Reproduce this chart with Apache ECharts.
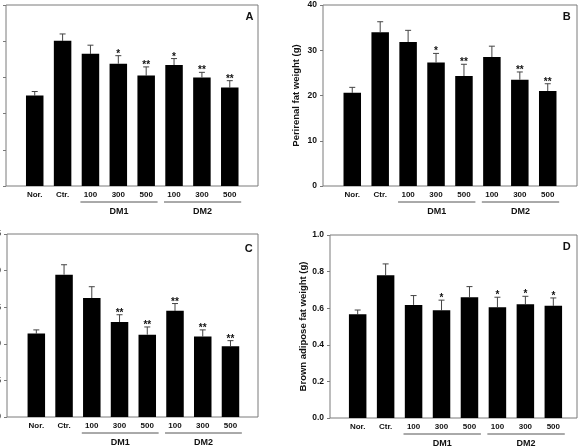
<!DOCTYPE html>
<html><head><meta charset="utf-8">
<script src="https://cdn.jsdelivr.net/npm/echarts@6/dist/echarts.min.js"></script>
<style>html,body{margin:0;padding:0;background:#fff}#c{width:585px;height:448px}</style>
</head><body><div id="c"></div>
<script>
const categories = ['Nor.', 'Ctr.', '100', '300', '500', '100', '300', '500'];
const groupNames = ['DM1', 'DM2'];
const groupFrom = [2, 5];
const groupTo = [4, 7];

const ticksA = [0, 10, 20, 30, 40, 50];
const meanA = [25.0, 40.1, 36.5, 33.8, 30.5, 33.4, 30.0, 27.2];
const sdA   = [1.1, 1.9, 2.4, 2.2, 2.4, 1.8, 1.4, 1.9];
const sigA  = ['', '', '', '*', '**', '*', '**', '**'];

const ticksB = [0, 10, 20, 30, 40];
const meanB = [20.6, 34.0, 31.8, 27.3, 24.3, 28.5, 23.5, 21.0];
const sdB   = [1.2, 2.3, 2.6, 2.0, 2.6, 2.4, 1.7, 1.6];
const sigB  = ['', '', '', '*', '**', '', '**', '**'];

const ticksC = [0, 0.5, 1.0, 1.5, 2.0, 2.5];
const meanC = [1.14, 1.945, 1.625, 1.297, 1.125, 1.45, 1.10, 0.968];
const sdC   = [0.05, 0.135, 0.155, 0.10, 0.105, 0.10, 0.09, 0.075];
const sigC  = ['', '', '', '**', '**', '**', '**', '**'];

const ticksD = [0, 0.2, 0.4, 0.6, 0.8, 1.0];
const meanD = [0.567, 0.78, 0.618, 0.589, 0.66, 0.605, 0.622, 0.613];
const sdD   = [0.023, 0.062, 0.051, 0.055, 0.058, 0.055, 0.043, 0.043];
const sigD  = ['', '', '', '*', '', '*', '*', '*'];

const FONT = '"Liberation Sans", Arial, Helvetica, sans-serif';
const AXIS_GRAY = '#7a7a7a';
const INK = '#111';

const panels = [
  {letter: 'A', mean: meanA, sd: sdA, sig: sigA, ticks: ticksA, dec: 0, name: '',
   frame: [6, 5, 252, 181], data: [20.8, 222.9], letterPos: [253.5, 17]},
  {letter: 'B', mean: meanB, sd: sdB, sig: sigB, ticks: ticksB, dec: 0, name: 'Perirenal fat weight (g)',
   frame: [323, 5, 254, 181], data: [338.3, 223.4], letterPos: [570.8, 17]},
  {letter: 'C', mean: meanC, sd: sdC, sig: sigC, ticks: ticksC, dec: 1, name: '',
   frame: [7, 234, 251, 183], data: [22.45, 221.9], letterPos: [252.8, 248.5]},
  {letter: 'D', mean: meanD, sd: sdD, sig: sigD, ticks: ticksD, dec: 1, name: 'Brown adipose fat weight (g)',
   frame: [330, 235, 247, 183], data: [343.7, 223.6], letterPos: [570.8, 246.5]}
];

const grid = [], xAxis = [], yAxis = [], series = [], graphic = [];

panels.forEach((p, i) => {
  const [fl, ft, fw, fh] = p.frame;
  const min = p.ticks[0], max = p.ticks[p.ticks.length - 1], interval = p.ticks[1] - p.ticks[0];
  grid.push({left: fl, top: ft, width: fw, height: fh, show: true, borderColor: AXIS_GRAY, borderWidth: 1,
             backgroundColor: 'transparent', containLabel: false, outerBoundsMode: 'none'});
  grid.push({left: p.data[0], top: ft, width: p.data[1], height: fh, containLabel: false, outerBoundsMode: 'none'});

  xAxis.push({gridIndex: 2 * i, type: 'value', show: false, min: 0, max: 1});
  xAxis.push({gridIndex: 2 * i + 1, type: 'category', data: categories,
    axisLine: {show: false}, axisTick: {show: false},
    axisLabel: {margin: 5, color: INK, fontSize: 8, fontWeight: 'bold', fontFamily: FONT, interval: 0}});

  yAxis.push({gridIndex: 2 * i, type: 'value', min, max, interval,
    axisLine: {show: false},
    axisTick: {show: true, inside: false, length: 3, lineStyle: {color: AXIS_GRAY}},
    splitLine: {show: false},
    axisLabel: {margin: 6, color: INK, fontSize: 8.5, fontWeight: 'bold', fontFamily: FONT,
                formatter: v => v.toFixed(p.dec)},
    name: p.name, nameLocation: 'middle', nameGap: 22, nameRotate: 90,
    nameTextStyle: {fontSize: 9.5, fontWeight: 'bold', color: INK, fontFamily: FONT}});
  yAxis.push({gridIndex: 2 * i + 1, type: 'value', min, max, interval, show: false});

  series.push({type: 'bar', xAxisIndex: 2 * i + 1, yAxisIndex: 2 * i + 1, data: p.mean,
    barWidth: 17.5, itemStyle: {color: '#000'}, silent: true});

  series.push({type: 'custom', xAxisIndex: 2 * i + 1, yAxisIndex: 2 * i + 1, clip: false, silent: true,
    encode: {x: 0, y: [1, 2]},
    data: p.mean.map((m, k) => [k, m, m + p.sd[k]]),
    renderItem: (params, api) => {
      const k = api.value(0);
      const base = api.coord([k, api.value(1)]);
      const top = api.coord([k, api.value(2)]);
      const cap = 3;
      const children = [
        {type: 'line', shape: {x1: top[0], y1: base[1], x2: top[0], y2: top[1]}, style: {stroke: '#444', lineWidth: 1}},
        {type: 'line', shape: {x1: top[0] - cap, y1: top[1], x2: top[0] + cap, y2: top[1]}, style: {stroke: '#444', lineWidth: 1}}
      ];
      const s = p.sig[k];
      if (s) children.push({type: 'text', style: {text: s, x: top[0], y: top[1] + 3.3, align: 'center',
        verticalAlign: 'bottom', font: 'bold 10px ' + FONT, fill: INK}});
      return {type: 'group', children};
    }});

  series.push({type: 'custom', xAxisIndex: 2 * i + 1, yAxisIndex: 2 * i + 1, clip: false, silent: true,
    encode: {x: [0, 1], y: 2},
    data: groupFrom.map((f, j) => [f, groupTo[j], 0, j]),
    renderItem: (params, api) => {
      const a = api.coord([api.value(0), 0]);
      const b = api.coord([api.value(1), 0]);
      const band = api.size([1, 0])[0];
      const x1 = a[0] - band * 0.36, x2 = b[0] + band * 0.41;
      const y = a[1] + 16;
      return {type: 'group', children: [
        {type: 'line', shape: {x1, y1: y, x2, y2: y}, style: {stroke: '#555', lineWidth: 1}},
        {type: 'text', style: {text: groupNames[api.value(3)], x: (x1 + x2) / 2, y: a[1] + 26, align: 'center',
          verticalAlign: 'middle', font: 'bold 9px ' + FONT, fill: INK}}
      ]};
    }});

  graphic.push({type: 'text', x: p.letterPos[0], y: p.letterPos[1],
    style: {text: p.letter, align: 'right', verticalAlign: 'middle', font: 'bold 11px ' + FONT, fill: INK}});
});

const chart = echarts.init(document.getElementById('c'), null, {renderer: 'canvas'});
chart.setOption({animation: false, backgroundColor: '#fff', grid, xAxis, yAxis, series, graphic});
</script>
</body></html>
